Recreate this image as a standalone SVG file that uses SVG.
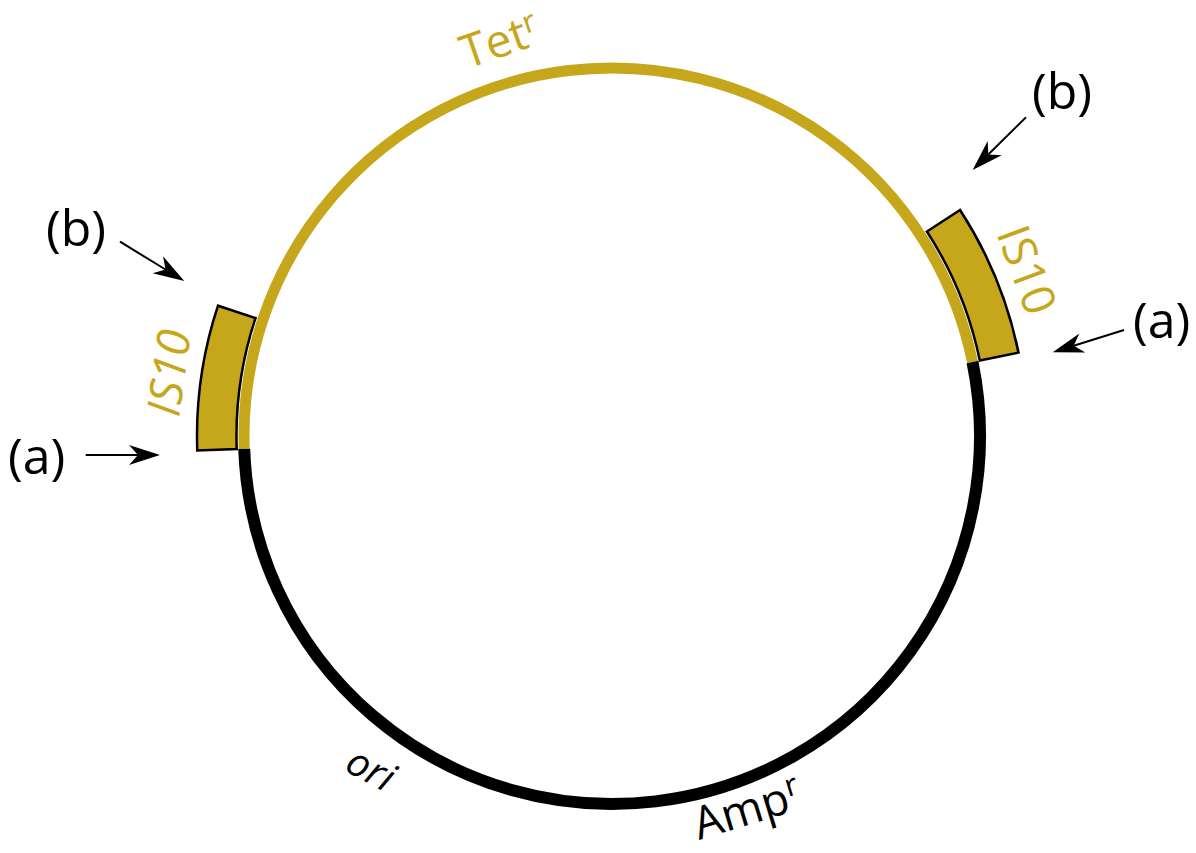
<svg xmlns="http://www.w3.org/2000/svg" width="1196" height="853" viewBox="0 0 1196 853">
  <defs>
    <marker id="ah" markerUnits="userSpaceOnUse" markerWidth="40" markerHeight="30" viewBox="-12 -12 40 24" refX="0" refY="0" orient="auto" overflow="visible">
      <path d="M22,0 L-9,-10 L0,0 L-9,10 Z" fill="#000"/>
    </marker>
  </defs>
  <style>
    .gold { fill: none; stroke: #C6A71C; stroke-width: 11; }
    .blk { fill: none; stroke: #000; stroke-width: 12; }
    .box { fill: #C6A71C; stroke: #000; stroke-width: 2.5; stroke-linejoin: miter; }
    .arrow { fill: none; stroke: #000; stroke-width: 2; marker-end: url(#ah); }
    .lbl { font-family: "Open Sans", "Liberation Sans", sans-serif; font-size: 50px; fill: #000; }
    .glbl { font-family: "Open Sans", "Liberation Sans", sans-serif; font-size: 46px; fill: #C6A71C; }
    .blbl { font-family: "Open Sans", "Liberation Sans", sans-serif; font-size: 45px; fill: #000; }
    .sup { font-size: 31px; }
  </style>
  <rect width="1196" height="853" fill="#fff"/>

  <g id="plasmid">
    <path id="tet-arc" class="gold" d="M244.22,448.84 A368,368 0 0 1 972.48,362.0"/>
    <path id="amp-arc" class="blk" d="M972.48,362.0 A368,368 0 1 1 244.22,448.84"/>
  </g>

  <g id="is10-left">
    <path class="box" d="M197.25,450.5 A415,415 0 0 1 218.0,305.7 L255.5,318.1 A375.5,375.5 0 0 0 236.7,449.1 Z"/>
    <text class="glbl" font-style="italic" transform="translate(179,418) rotate(-82)">IS10</text>
  </g>

  <g id="is10-right">
    <path class="box" d="M960.05,210.0 A415,415 0 0 1 1018.5,352.55 L979.8,360.5 A375.5,375.5 0 0 0 926.9,231.5 Z"/>
    <text class="glbl" transform="translate(996,233) rotate(69.7)">IS10</text>
  </g>

  <g id="tet-label">
    <text class="glbl" transform="translate(467,69) rotate(-19)">Tet<tspan class="sup" dy="-14">r</tspan></text>
  </g>

  <g id="amp-label">
    <text class="blbl" transform="translate(699,840) rotate(-17)">Amp<tspan class="sup" dy="-15">r</tspan></text>
  </g>

  <g id="ori-label">
    <text class="blbl" font-style="italic" style="font-size:40px" transform="translate(343,770) rotate(28)">ori</text>
  </g>

  <g id="labels">
    <text class="lbl" x="46" y="246">(b)</text>
    <text class="lbl" x="8" y="474">(a)</text>
    <text class="lbl" x="1032" y="109">(b)</text>
    <text class="lbl" x="1133" y="338">(a)</text>
  </g>

  <g id="connectors">
    <line class="arrow" x1="120" y1="241.7" x2="165.5" y2="269.5"/>
    <line class="arrow" x1="85.7" y1="455" x2="138" y2="455"/>
    <line class="arrow" x1="1026" y1="117.3" x2="988.3" y2="154.5"/>
    <line class="arrow" x1="1124" y1="330" x2="1073.7" y2="345.7"/>
  </g>
</svg>
